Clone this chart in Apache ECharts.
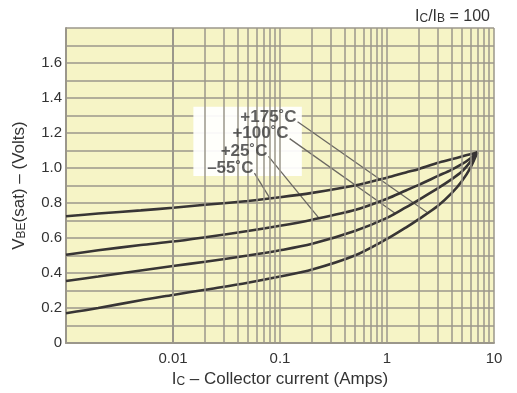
<!DOCTYPE html>
<html><head><meta charset="utf-8">
<script src="https://cdn.jsdelivr.net/npm/echarts@6/dist/echarts.min.js"></script>
<style>html,body{margin:0;padding:0;background:#fff}#c{width:517px;height:393px}</style>
</head><body><div id="c"></div>
<script>
// Collector current (A)
const currents = [0.001,0.002,0.005,0.01,0.02,0.05,0.1,0.2,0.5,1,1.5,2,3,4,5,6,7];
// VBE(sat) (V) per temperature
const vMinus55 = [0.725,0.74,0.758,0.773,0.79,0.812,0.833,0.858,0.90,0.945,0.975,0.995,1.03,1.05,1.066,1.079,1.09];
const vPlus25  = [0.505,0.53,0.56,0.58,0.605,0.64,0.67,0.705,0.76,0.825,0.872,0.905,0.955,0.99,1.022,1.055,1.09];
const vPlus100 = [0.355,0.38,0.415,0.44,0.465,0.50,0.53,0.567,0.64,0.715,0.775,0.82,0.885,0.935,0.98,1.035,1.09];
const vPlus175 = [0.17,0.20,0.245,0.275,0.305,0.345,0.38,0.42,0.50,0.595,0.66,0.71,0.785,0.855,0.925,1.0,1.09];
// tick labels
const xTickValues = [0.01,0.1,1,10];
const xTickLabels = ['0.01','0.1','1','10'];
const yTickValues = [0,0.2,0.4,0.6,0.8,1.0,1.2,1.4,1.6];
const yTickLabels = ['0','0.2','0.4','0.6','0.8','1.0','1.2','1.4','1.6'];
// log paper vertical rulings
const decades = [0.001,0.01,0.1,1];
const multipliers = [1,2,3,4,5,6,7,8,9];
// annotations
const tempLabels = ['+175˚C','+100˚C','+25˚C','–55˚C'];
const leaderStarts = [[0.146,1.264],[0.123,1.168],[0.078,1.067],[0.0577,0.971]];
const leaderEnds   = [[2.4,0.745],[1.2,0.74],[0.23,0.715],[0.08,0.83]];
const labelPatch = [[0.0155,1.35],[0.16,0.955]];

const gridColor = '#9b978b';
const curveColor = '#383535';
const font = '"Liberation Sans", Arial, Helvetica, sans-serif';

const gridXs = [];
decades.forEach(d => multipliers.forEach(m => gridXs.push(+(d*m).toPrecision(6))));
gridXs.push(10);

function near(a, b) { return Math.abs(a - b) <= 1e-6 * Math.max(1, Math.abs(b)); }

const curves = [vMinus55, vPlus25, vPlus100, vPlus175];
const series = [];
series.push({
  type: 'line', data: [], z: 1, silent: true,
  markLine: {
    silent: true, symbol: 'none', animation: false,
    label: { show: false },
    lineStyle: { color: gridColor, width: 1.5, type: 'solid' },
    emphasis: { disabled: true },
    data: gridXs.map(v => ({ xAxis: v }))
  }
});
series.push({
  type: 'line', data: [], z: 2, silent: true,
  markArea: {
    silent: true,
    itemStyle: { color: 'rgba(255,255,255,0.93)' },
    data: [[{ xAxis: labelPatch[0][0], yAxis: labelPatch[0][1] }, { xAxis: labelPatch[1][0], yAxis: labelPatch[1][1] }]]
  }
});
curves.forEach(c => {
  series.push({
    type: 'line', z: 4, smooth: 0.3, symbol: 'none', silent: true,
    lineStyle: { color: curveColor, width: 2.6 },
    data: currents.map((x, i) => [x, c[i]])
  });
});
leaderStarts.forEach((s, i) => {
  series.push({
    type: 'line', z: 3, symbol: 'none', silent: true,
    lineStyle: { color: '#6b6862', width: 1.3 },
    data: [s, leaderEnds[i]]
  });
});
series.push({
  type: 'scatter', z: 5, symbolSize: 0, silent: true,
  data: leaderStarts.map((p, i) => ({ value: p, name: tempLabels[i] })),
  label: {
    show: true, position: 'left', distance: 1, offset: [0, -5],
    formatter: '{b}', fontFamily: font, fontSize: 17, fontWeight: 'bold', color: '#3a3a3a'
  }
});

const chart = echarts.init(document.getElementById('c'), null, { renderer: 'canvas' });
chart.setOption({
  animation: false,
  backgroundColor: '#ffffff',
  title: {
    text: 'I{s|C}/I{s|B} = 100', right: 22, top: 4,
    textStyle: { fontFamily: font, fontSize: 16, fontWeight: 'normal', color: '#333',
      rich: { s: { fontFamily: font, fontSize: 12, color: '#333', verticalAlign: 'bottom' } } }
  },
  grid: { left: 66, right: 23, top: 28, bottom: 46, show: true, backgroundColor: '#f6f4c6', borderWidth: 0 },
  xAxis: {
    type: 'log', logBase: 10, min: 0.001, max: 10,
    splitLine: { show: false }, axisTick: { show: false },
    axisLine: { show: true, lineStyle: { color: gridColor, width: 2 } },
    axisLabel: {
      fontFamily: font, fontSize: 15, color: '#333', margin: 8,
      formatter: v => { const i = xTickValues.findIndex(t => near(v, t)); return i >= 0 ? xTickLabels[i] : ''; }
    },
    name: 'I{s|C} – Collector current (Amps)', nameLocation: 'middle', nameGap: 26,
    nameTextStyle: { fontFamily: font, fontSize: 17, color: '#333',
      rich: { s: { fontFamily: font, fontSize: 12, color: '#333', verticalAlign: 'bottom' } } }
  },
  yAxis: {
    type: 'value', min: 0, max: 1.8, interval: 0.1,
    splitLine: { show: true, lineStyle: { color: gridColor, width: 1.5 } },
    axisTick: { show: false },
    axisLine: { show: true, lineStyle: { color: gridColor, width: 2 } },
    axisLabel: {
      fontFamily: font, fontSize: 15, color: '#333', margin: 4, padding: [0, 0, 8, 0],
      formatter: v => { const i = yTickValues.findIndex(t => near(v, t)); return i >= 0 ? yTickLabels[i] : ''; }
    },
    name: 'V{s|BE}(sat) – (Volts)', nameLocation: 'middle', nameGap: 38, nameRotate: 90,
    nameTextStyle: { fontFamily: font, fontSize: 17, color: '#333',
      rich: { s: { fontFamily: font, fontSize: 12, color: '#333', verticalAlign: 'bottom' } } }
  },
  series: series
});
</script></body></html>
